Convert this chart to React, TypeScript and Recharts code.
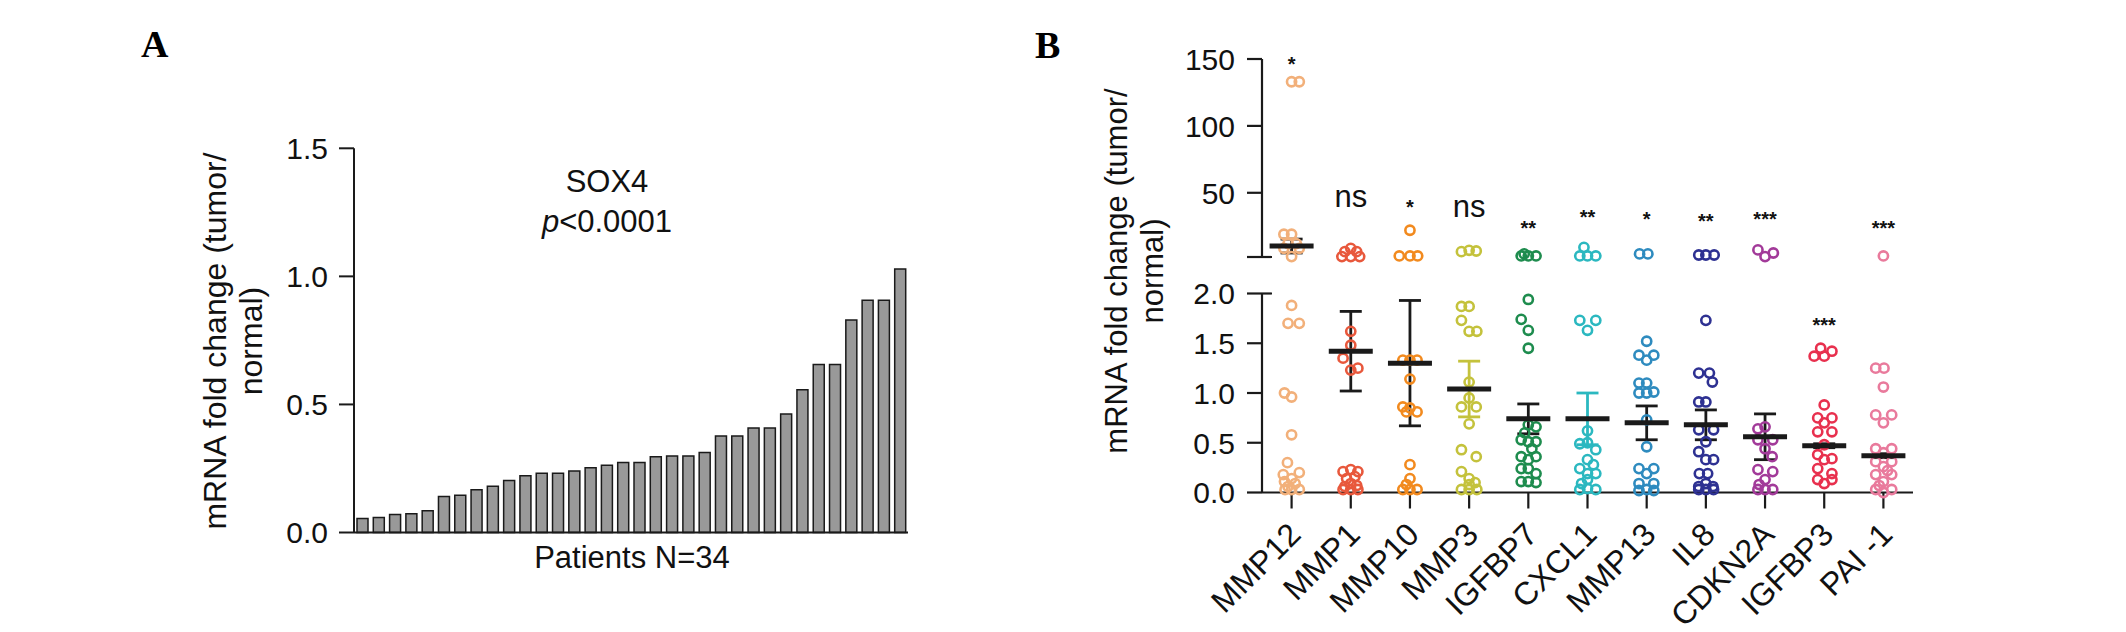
import React from "react";
import { BarChart, Bar, XAxis, YAxis, ScatterChart, Scatter, ErrorBar } from "recharts";

const FONT = "'Liberation Sans', Arial, sans-serif";
const SERIF = "'Liberation Serif', 'Times New Roman', serif";
const INK = "#1a1a1a";

// ── Panel A: SOX4 per patient ────────────────────────────────────────────────
const sox4 = [
  0.055, 0.059, 0.07, 0.073, 0.085, 0.141, 0.145, 0.167, 0.181, 0.203, 0.222, 0.231,
  0.231, 0.24, 0.253, 0.263, 0.273, 0.273, 0.296, 0.299, 0.299, 0.312, 0.377, 0.377,
  0.408, 0.408, 0.463, 0.557, 0.656, 0.656, 0.83, 0.907, 0.907, 1.029,
];
const sox4Ticks = [0, 0.5, 1, 1.5];

// ── Panel B: genes ───────────────────────────────────────────────────────────
const genes = ["MMP12", "MMP1", "MMP10", "MMP3", "IGFBP7", "CXCL1", "MMP13", "IL8", "CDKN2A", "IGFBP3", "PAI -1"];
const geneColors = ["#f2b07a", "#e8583c", "#f28a1e", "#c4c23c", "#1e8c4e", "#2bb8c0", "#2e8bbf", "#2e3192", "#a23a99", "#e8304e", "#e97a9c"];
const means = [10.2, 1.42, 1.3, 1.04, 0.74, 0.74, 0.7, 0.68, 0.56, 0.47, 0.37];
const sems = [5.2, 0.4, 0.63, 0.28, 0.15, 0.26, 0.17, 0.15, 0.23, 0.02, 0.02];
const errColors = [INK, INK, INK, "#c4c23c", INK, "#2bb8c0", INK, INK, INK, INK, INK];
const sigText = ["*", "ns", "*", "ns", "**", "**", "*", "**", "***", "***", "***"];
const sigY = [150, 45.6, 42.6, 38.1, 27.2, 35.1, 33.9, 32.1, 33.9, 1.73, 26.7];
const upperTicks = [2, 50, 100, 150];
const lowerTicks = [0, 0.5, 1, 1.5, 2];

// points per gene: [fold change, horizontal jitter in category units]
const mmp12 = [[133, 0], [133, 0.13], [19, -0.13], [19, 0], [12, -0.06], [12, 0.08], [8.5, -0.13], [8.5, 0.13], [2.3, 0], [1.88, 0], [1.7, -0.06], [1.7, 0.13], [1.0, -0.12], [0.96, 0], [0.58, 0], [0.3, -0.07], [0.18, -0.14], [0.2, 0.13], [0.14, 0], [0.09, 0.06], [0.06, -0.06], [0.11, -0.12], [0.03, -0.11], [0.03, 0], [0.03, 0.13]];
const mmp1 = [[8.5, 0], [6, -0.1], [6, 0.1], [2.3, -0.15], [2.3, 0], [2.3, 0.15], [1.62, 0], [1.48, 0], [1.35, -0.13], [1.25, 0.12], [1.23, 0], [0.21, -0.13], [0.23, 0], [0.21, 0.12], [0.14, -0.07], [0.16, 0.07], [0.09, 0], [0.06, -0.1], [0.07, 0.1], [0.03, -0.13], [0.03, 0], [0.03, 0.12]];
const mmp10 = [[22, 0], [2.8, -0.18], [2.8, 0], [2.8, 0.13], [1.33, -0.12], [1.33, 0], [1.33, 0.12], [1.14, 0], [0.86, -0.12], [0.85, 0], [0.81, 0.12], [0.81, -0.06], [0.28, 0], [0.14, 0], [0.08, -0.06], [0.03, -0.12], [0.03, 0], [0.03, 0.12]];
const mmp3 = [[6, -0.13], [7, 0], [6.5, 0.12], [1.87, -0.13], [1.87, 0], [1.73, -0.13], [1.62, 0], [1.62, 0.13], [1.11, 0], [0.95, 0], [0.86, -0.13], [0.86, 0.12], [0.69, 0], [0.43, -0.13], [0.36, 0.12], [0.21, -0.13], [0.14, 0], [0.08, 0], [0.1, 0.1], [0.03, -0.13], [0.03, 0], [0.03, 0.13]];
const igfbp7 = [[2.8, -0.12], [4.3, -0.07], [2.8, 0], [2.8, 0.13], [1.94, 0], [1.74, -0.12], [1.63, 0], [1.45, 0], [0.66, 0.13], [0.68, 0], [0.6, -0.06], [0.53, -0.12], [0.51, 0], [0.51, 0.13], [0.44, 0.06], [0.36, -0.12], [0.36, 0.13], [0.33, 0], [0.24, -0.12], [0.24, 0], [0.19, 0.13], [0.11, -0.12], [0.11, 0], [0.1, 0.13]];
const cxcl1 = [[9.2, -0.06], [2.8, -0.13], [2.8, 0], [2.8, 0.14], [1.73, -0.13], [1.73, 0.14], [1.63, 0], [0.62, 0], [0.49, -0.13], [0.5, 0], [0.43, 0.14], [0.33, 0], [0.24, -0.13], [0.28, 0.1], [0.19, 0], [0.19, 0.14], [0.13, 0], [0.09, -0.1], [0.03, -0.13], [0.04, 0], [0.03, 0.14]];
const mmp13 = [[4.3, -0.12], [4.3, 0.02], [1.52, 0], [1.38, -0.13], [1.38, 0.12], [1.33, 0], [1.1, -0.13], [1.1, 0], [1.01, 0.12], [1.0, -0.13], [1.0, 0], [0.73, 0], [0.46, 0], [0.24, -0.13], [0.24, 0.12], [0.19, 0], [0.09, -0.13], [0.09, 0.12], [0.03, 0], [0.02, -0.13], [0.02, 0.12]];
const il8 = [[3.5, -0.12], [3.5, 0], [3.5, 0.14], [1.73, 0], [1.2, -0.12], [1.2, 0.06], [1.11, 0.11], [0.91, -0.12], [0.91, 0], [0.63, -0.12], [0.63, 0.13], [0.51, 0], [0.41, -0.12], [0.33, 0], [0.33, 0.13], [0.19, -0.11], [0.19, 0.03], [0.09, 0], [0.06, -0.12], [0.06, 0.12], [0.03, -0.12], [0.03, 0], [0.03, 0.13]];
const cdkn2a = [[7.3, -0.12], [5.0, 0.14], [2.3, 0], [0.64, -0.12], [0.66, 0], [0.53, 0.13], [0.53, -0.12], [0.44, 0], [0.36, 0.12], [0.23, -0.12], [0.21, 0.13], [0.13, 0], [0.08, -0.1], [0.03, -0.12], [0.03, 0], [0.03, 0.13]];
const igfbp3 = [[1.45, -0.06], [1.42, 0.13], [1.37, -0.17], [1.37, 0], [0.88, 0], [0.75, -0.11], [0.75, 0.13], [0.7, 0], [0.61, -0.11], [0.61, 0.13], [0.48, 0], [0.38, -0.11], [0.34, 0.13], [0.33, 0], [0.24, -0.11], [0.19, 0.13], [0.13, -0.11], [0.13, 0.13], [0.09, 0]];
const pai1 = [[2.8, 0], [1.25, -0.13], [1.25, 0.01], [1.06, 0], [0.78, -0.13], [0.78, 0.14], [0.7, 0], [0.44, -0.13], [0.44, 0.14], [0.4, 0], [0.31, -0.13], [0.31, 0.14], [0.26, 0], [0.22, 0.07], [0.18, -0.13], [0.18, 0.14], [0.11, 0], [0.07, -0.07], [0.03, -0.13], [0.03, 0.14], [0.0, 0]];

const genePoints = [mmp12, mmp1, mmp10, mmp3, igfbp7, cxcl1, mmp13, il8, cdkn2a, igfbp3, pai1];

// ── built tables ─────────────────────────────────────────────────────────────
const sox4Data = sox4.map((v, i) => ({ patient: i + 1, v }));
const pointRows = genePoints.map((pts, gi) => pts.map(([v, dx]) => ({ x: gi + dx, y: v })));
const meanRows = genes.map((_, i) => ({ x: i, y: means[i], err: sems[i], c: errColors[i] }));
const errPalette = Array.from(new Set(errColors));
const sigRows = genes.map((_, i) => ({ x: i, y: sigY[i], t: sigText[i] }));
const geneIdx = genes.map((_, i) => i);

const B_TICK = 15;
const B_MARGIN = 12;

function BYTick(props: any) {
  const { x, y, payload, upper } = props;
  const ax = x + B_TICK + B_MARGIN;
  const v = payload.value;
  const isBreak = v === 2;
  const label = upper ? (v === 2 ? "" : String(v)) : v.toFixed(1);
  return (
    <g>
      <line x1={ax - B_TICK} x2={isBreak ? ax + 10 : ax} y1={y} y2={y} stroke={INK} strokeWidth={2.2} />
      <text x={x} y={y} dy="0.36em" textAnchor="end" fontSize={30} fontFamily={FONT} fill="#111">
        {label}
      </text>
    </g>
  );
}

function GeneTick(props: any) {
  const { x, y, payload } = props;
  const tx = x + 11;
  const ty = y + 28;
  return (
    <text x={tx} y={ty} transform={`rotate(-45, ${tx}, ${ty})`} textAnchor="end" fontSize={32} fontFamily={FONT} fill="#111">
      {genes[payload.value]}
    </text>
  );
}

const Ring = (color: string) => (p: any) =>
  <circle cx={p.cx} cy={p.cy} r={4.6} fill="none" stroke={color} strokeWidth={2.6} />;

const MeanLine = (p: any) => (
  <line x1={p.cx - 22} x2={p.cx + 22} y1={p.cy} y2={p.cy} stroke={INK} strokeWidth={5} />
);

const SigLabel = (p: any) => {
  const t = p.payload.t;
  const ns = t === "ns";
  return (
    <text
      x={p.cx}
      y={p.cy + (ns ? 8 : 11.5)}
      textAnchor="middle"
      fontSize={ns ? 31 : 20}
      fontWeight={ns ? 400 : 700}
      fontFamily={FONT}
      fill="#111"
    >
      {t}
    </text>
  );
};

function geneSeries(lower: boolean) {
  const out: React.ReactNode[] = [];
  pointRows.forEach((rows, gi) => {
    const data = rows.filter((r) => (lower ? r.y <= 2 : r.y > 2));
    out.push(
      <Scatter key={`p${gi}`} data={data} shape={Ring(geneColors[gi])} isAnimationActive={false} />
    );
  });
  errPalette.forEach((c, ci) => {
    const data = meanRows.filter((r) => r.c === c && (lower ? r.y <= 2 : r.y > 2));
    out.push(
      <Scatter key={`m${ci}`} data={data} shape={MeanLine} isAnimationActive={false}>
        <ErrorBar dataKey="err" direction="y" width={11} stroke={c} strokeWidth={2.8} />
      </Scatter>
    );
  });
  const sig = sigRows.filter((r) => (lower ? r.y <= 2 : r.y > 2));
  out.push(<Scatter key="sig" data={sig} shape={SigLabel} isAnimationActive={false} />);
  return out;
}

export default function App() {
  return (
    <div style={{ position: "absolute", left: 0, top: 0, width: 2126, height: 632, background: "#fff", overflow: "hidden" }}>
      {/* ── A ── */}
      <div style={{ position: "absolute", left: 0, top: 0 }}>
        <BarChart width={1000} height={632} data={sox4Data} margin={{ top: 148.3, right: 92, bottom: 85.5, left: 254 }}>
          <XAxis dataKey="patient" tick={false} tickLine={false} height={14} axisLine={{ stroke: INK, strokeWidth: 2 }} />
          <YAxis
            width={100}
            domain={[0, 1.5]}
            ticks={sox4Ticks}
            tickFormatter={(v: number) => v.toFixed(1)}
            tickSize={15}
            tickMargin={11}
            axisLine={{ stroke: INK, strokeWidth: 2 }}
            tickLine={{ stroke: INK, strokeWidth: 2 }}
            tick={{ fontSize: 30, fill: "#111", fontFamily: FONT }}
          />
          <Bar dataKey="v" fill="#999999" stroke={INK} strokeWidth={1.5} barSize={11} isAnimationActive={false} />
        </BarChart>
      </div>

      {/* ── B upper segment ── */}
      <div style={{ position: "absolute", left: 1100, top: 0 }}>
        <ScatterChart width={860} height={280} margin={{ top: 59, right: 47, bottom: 23, left: 62 }}>
          <XAxis type="number" dataKey="x" domain={[-0.5, 10.5]} hide height={0} />
          <YAxis
            type="number"
            dataKey="y"
            width={100}
            domain={[2, 150]}
            ticks={upperTicks}
            interval={0}
            tickSize={B_TICK}
            tickMargin={B_MARGIN}
            tickLine={false}
            axisLine={{ stroke: INK, strokeWidth: 2.2 }}
            tick={<BYTick upper />}
          />
          {geneSeries(false)}
        </ScatterChart>
      </div>

      {/* ── B lower segment ── */}
      <div style={{ position: "absolute", left: 1100, top: 270 }}>
        <ScatterChart width={860} height={362} margin={{ top: 23.5, right: 47, bottom: 19.5, left: 62 }}>
          <XAxis
            type="number"
            dataKey="x"
            domain={[-0.5, 10.5]}
            ticks={geneIdx}
            interval={0}
            height={120}
            tickSize={16}
            tickMargin={0}
            axisLine={{ stroke: INK, strokeWidth: 2.2 }}
            tickLine={{ stroke: INK, strokeWidth: 2.2 }}
            tick={<GeneTick />}
          />
          <YAxis
            type="number"
            dataKey="y"
            width={100}
            domain={[0, 2]}
            ticks={lowerTicks}
            interval={0}
            tickSize={B_TICK}
            tickMargin={B_MARGIN}
            tickLine={false}
            axisLine={{ stroke: INK, strokeWidth: 2.2 }}
            tick={<BYTick />}
          />
          {geneSeries(true)}
        </ScatterChart>
      </div>

      {/* ── free text ── */}
      <svg width={2126} height={632} style={{ position: "absolute", left: 0, top: 0, pointerEvents: "none" }}>
        <text x={141} y={57} fontSize={38} fontWeight={700} fontFamily={SERIF} fill="#000">A</text>
        <text x={1035} y={58} fontSize={38} fontWeight={700} fontFamily={SERIF} fill="#000">B</text>

        <text x={607} y={192} textAnchor="middle" fontSize={31} fontFamily={FONT} fill="#111">SOX4</text>
        <text x={607} y={232} textAnchor="middle" fontSize={31} fontFamily={FONT} fill="#111">
          <tspan fontStyle="italic">p</tspan>&lt;0.0001
        </text>
        <text x={632} y={568} textAnchor="middle" fontSize={31} fontFamily={FONT} fill="#111">Patients N=34</text>

        <text x={226} y={341} transform="rotate(-90, 226, 341)" textAnchor="middle" fontSize={32} fontFamily={FONT} fill="#111">
          mRNA fold change (tumor/
        </text>
        <text x={262} y={341} transform="rotate(-90, 262, 341)" textAnchor="middle" fontSize={32} fontFamily={FONT} fill="#111">
          normal)
        </text>

        <text x={1127} y={271} transform="rotate(-90, 1127, 271)" textAnchor="middle" fontSize={31} fontFamily={FONT} fill="#111">
          mRNA fold change (tumor/
        </text>
        <text x={1163} y={271} transform="rotate(-90, 1163, 271)" textAnchor="middle" fontSize={31} fontFamily={FONT} fill="#111">
          normal)
        </text>
      </svg>
    </div>
  );
}
